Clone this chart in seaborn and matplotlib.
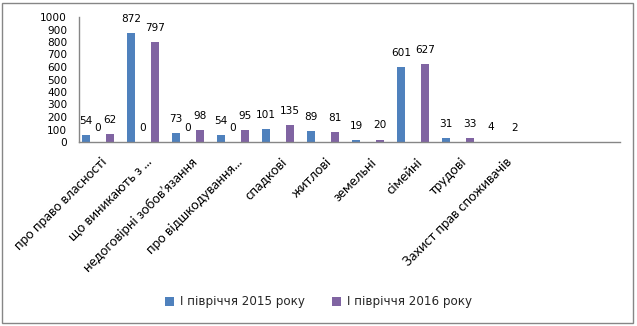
import matplotlib
matplotlib.use('Agg')
import matplotlib.pyplot as plt
import matplotlib.transforms as mtransforms
from matplotlib.patches import Rectangle
import seaborn as sns
import pandas as pd

categories = ["про право власності", "що виникають з ...", "недоговірні зобов’язання",
              "про відшкодування...", "спадкові", "житлові", "земельні", "сімейні",
              "трудові", "Захист прав споживачів"]
values_2015 = [54, 872, 73, 54, 101, 89, 19, 601, 31, 4]
values_2016 = [62, 797, 98, 95, 135, 81, 20, 627, 33, 2]
values_zero = [0, 0, 0, 0]          # unnamed helper series (only labels "0")
series_2015 = "І півріччя 2015 року"
series_2016 = "І півріччя 2016 року"
series_zero = " "
yticks = list(range(0, 1001, 100))

BLUE = "#4F81BD"
PURPLE = "#8064A2"
AXIS_GRAY = "#868686"

rows = []
for c, v in zip(categories, values_2015):
    rows.append((c, series_2015, v))
for c, v in zip(categories, values_zero):
    rows.append((c, series_zero, v))
for c, v in zip(categories, values_2016):
    rows.append((c, series_2016, v))
df = pd.DataFrame(rows, columns=["category", "series", "value"])

sns.set_theme(style="white")
plt.rcParams['font.family'] = ['DejaVu Sans']

W, H = 637, 326
fig = plt.figure(figsize=(W / 100, H / 100), dpi=100)
ax_left, ax_right = 79, 620
ax_top, ax_bottom = 17, 142
ax = fig.add_axes([ax_left / W, (H - ax_bottom) / H,
                   (ax_right - ax_left) / W, (ax_bottom - ax_top) / H])

sns.barplot(data=df, x="category", y="value", hue="series", order=categories,
            hue_order=[series_2015, series_zero, series_2016],
            palette={series_2015: BLUE, series_zero: "white", series_2016: PURPLE},
            width=0.8, saturation=1, errorbar=None, legend=False, ax=ax,
            linewidth=0)

# category spacing 45 px -> bar width 8 px
cat_px = 45.0
bar_w = 8.0 / cat_px
for cont in ax.containers:
    for p in cont.patches:
        cx = p.get_x() + p.get_width() / 2
        p.set_width(bar_w)
        p.set_x(cx - bar_w / 2)

for cont in ax.containers:
    labels = [f"{r.get_height():g}" for r in cont]
    ax.bar_label(cont, labels=labels, padding=6.5, fontsize=7.6, color="black")

x0 = -(98 - ax_left) / cat_px
ax.set_xlim(x0, x0 + (ax_right - ax_left) / cat_px)
ax.set_ylim(0, 1000)
ax.set_yticks(yticks)
ax.set_yticklabels([str(t) for t in yticks])
ax.set_xlabel("")
ax.set_ylabel("")

for s in ["top", "right"]:
    ax.spines[s].set_visible(False)
for s in ["left", "bottom"]:
    ax.spines[s].set_color(AXIS_GRAY)
    ax.spines[s].set_linewidth(1.0)
ax.tick_params(axis="y", length=0, pad=8.5, labelsize=7.6, labelcolor="black")
ax.tick_params(axis="x", length=0, pad=13, labelcolor="black")

ax.set_xticks(range(len(categories)))
ax.set_xticklabels(categories, rotation=45, ha="right", va="center",
                   rotation_mode="anchor", fontsize=9.6, family=["Lato", "DejaVu Sans"])
shift = mtransforms.ScaledTranslation(7 / 100, 0, fig.dpi_scale_trans)
for lbl in ax.get_xticklabels():
    lbl.set_transform(lbl.get_transform() + shift)

handles = [ax.containers[0].patches[0], ax.containers[2].patches[0]]
fig.legend(handles=handles, labels=[series_2015, series_2016], loc="center",
           bbox_to_anchor=(318.5 / W, (H - 302) / H), ncol=2, frameon=False,
           fontsize=8.6, handlelength=0.7, handleheight=0.7, handletextpad=0.5,
           columnspacing=2.3)

fig.patches.append(Rectangle((2 / W, 3 / H), 631 / W, 320 / H, transform=fig.transFigure,
                             fill=False, edgecolor=AXIS_GRAY, linewidth=1.0))

fig.savefig("out.png", dpi=100)
